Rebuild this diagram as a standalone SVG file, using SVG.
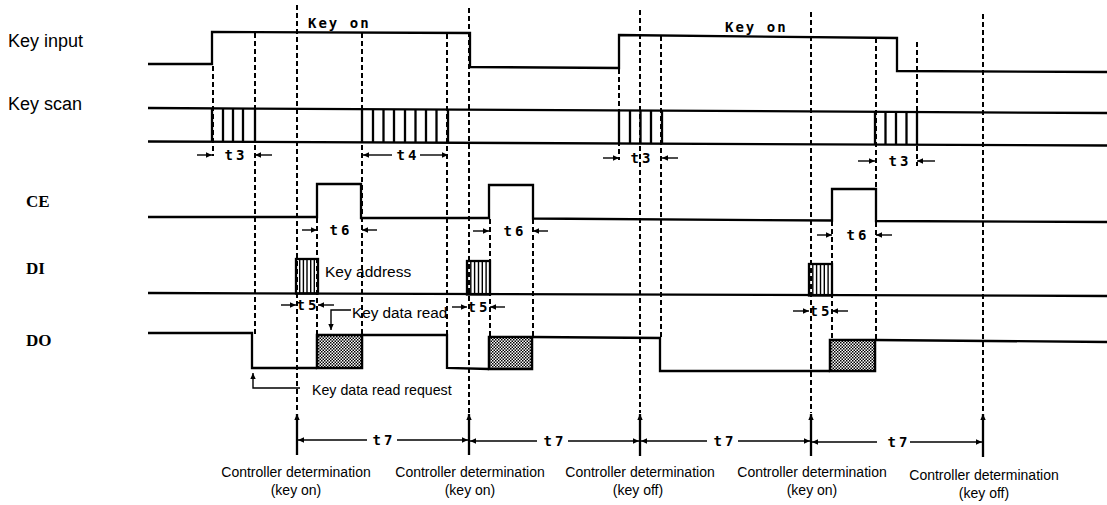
<svg xmlns="http://www.w3.org/2000/svg" width="1107" height="505" viewBox="0 0 1107 505">
<style>
.sig{fill:none;stroke:#000;stroke-width:2.3;stroke-linejoin:miter}
.dash{fill:none;stroke:#000;stroke-width:2;stroke-dasharray:5 3}
.thin{fill:none;stroke:#000;stroke-width:1.4}
.hatch{fill:none;stroke:#000;stroke-width:1.4}
.lbl{font-family:"Liberation Sans",Arial,sans-serif;fill:#000}
.signame{font-family:"Liberation Sans",Arial,sans-serif;font-size:18px;fill:#000}
.pin{font-family:"Liberation Serif","Times New Roman",serif;font-size:17px;font-weight:bold;fill:#000}
.mono{font-family:"DejaVu Sans Mono","Liberation Mono",monospace;font-weight:bold;fill:#000}
.tl{font-family:"DejaVu Sans Mono","Liberation Mono",monospace;font-weight:bold;font-size:14px;letter-spacing:3px;fill:#000;text-anchor:middle}
.cd{font-family:"Liberation Sans",Arial,sans-serif;font-size:14px;fill:#000;text-anchor:middle}
</style>
<defs>
<marker id="ah" viewBox="0 0 10 10" refX="10" refY="5" markerWidth="7" markerHeight="6" orient="auto" markerUnits="userSpaceOnUse"><path d="M0,0.5 L10,5 L0,9.5 z" fill="#000"/></marker>
<pattern id="stip" width="3" height="3" patternUnits="userSpaceOnUse"><rect width="3" height="3" fill="#fff"/><rect width="1.5" height="1.5" fill="#000"/><rect x="1.5" y="1.5" width="1.5" height="1.5" fill="#000"/></pattern>
</defs>
<rect width="1107" height="505" fill="#fff"/>

<g id="signal-names">
<text class="signame" x="8" y="47">Key input</text>
<text class="signame" x="8" y="110">Key scan</text>
<text class="pin" x="26" y="207">CE</text>
<text class="pin" x="26" y="274">DI</text>
<text class="pin" x="26" y="346">DO</text>
</g>

<g id="guides">
<path class="dash" d="M213,66 V156"/>
<path class="dash" d="M255,33 V334"/>
<path class="dash" d="M297,5 V413"/>
<path class="dash" d="M317,218 V335"/>
<path class="dash" d="M362,33 V335"/>
<path class="dash" d="M447,34 V335"/>
<path class="dash" d="M469,8 V413"/>
<path class="dash" d="M490,219 V337"/>
<path class="dash" d="M533,219 V337"/>
<path class="dash" d="M619,69 V160"/>
<path class="dash" d="M640,10 V413"/>
<path class="dash" d="M661,36 V338"/>
<path class="dash" d="M811,12 V413"/>
<path class="dash" d="M832,221 V340"/>
<path class="dash" d="M876,38 V340"/>
<path class="dash" d="M917,42 V166"/>
<path class="dash" d="M983,14 V413"/>
</g>

<g id="key-input">
<path class="sig" d="M148,64 H212 V32 L470,33 V67 L619,68 V35 L897,38 V71 L1107,72"/>
<text class="mono" x="308" y="28" font-size="14" letter-spacing="2">Key on</text>
<text class="mono" x="725" y="32" font-size="14" letter-spacing="2">Key on</text>
</g>

<g id="key-scan">
<path class="sig" d="M148,108 L1107,113"/>
<path class="sig" d="M148,141.5 L1107,145.5"/>
<path class="sig" d="M212,108.3 V141.8 M223,108.4 V141.8 M233,108.4 V141.8 M243,108.5 V141.9 M255,108.5 V141.9"/>
<path class="sig" d="M362,109.1 V142.4 M373,109.2 V142.5 M383.5,109.2 V142.5 M394,109.3 V142.5 M405,109.3 V142.6 M415.5,109.4 V142.6 M426,109.4 V142.7 M436.5,109.5 V142.7 M448,109.5 V142.8"/>
<path class="sig" d="M619,110.5 V143.5 M630,110.6 V143.6 M640.5,110.6 V143.6 M651,110.7 V143.7 M662,110.7 V143.7"/>
<path class="sig" d="M875,111.8 V144.5 M885.5,111.9 V144.5 M896,111.9 V144.6 M906.5,112 V144.6 M917,112 V144.7"/>
</g>

<g id="ce">
<path class="sig" d="M148,217 H317 V184 H361 V218 H489 V185 H533 V218.5 L832,220.5 V189 H876 V221 L1107,222"/>
</g>

<g id="di">
<path class="sig" d="M148,293 L1107,296"/>
<rect class="sig" x="296" y="259" width="22" height="34.5"/>
<path class="hatch" d="M299.7,259 V293.5 M303.4,259 V293.5 M307,259 V293.5 M310.7,259 V293.5 M314.3,259 V293.5"/>
<rect class="sig" x="467" y="261" width="23" height="33.5"/>
<path class="hatch" d="M470.8,261 V294.5 M474.6,261 V294.5 M478.5,261 V294.5 M482.3,261 V294.5 M486.1,261 V294.5"/>
<rect class="sig" x="809" y="264" width="23" height="31.5"/>
<path class="hatch" d="M812.8,264 V295.5 M816.6,264 V295.5 M820.5,264 V295.5 M824.3,264 V295.5 M828.1,264 V295.5"/>
<text class="lbl" x="325" y="277" font-size="15.5">Key address</text>
</g>

<g id="do">
<path class="sig" d="M148,333 H252 V368 H317 M362,335 L447,335 V368 L489,369 M532,337 L660,338 V371 L830,371 M875,340 L1107,342"/>
<rect x="317" y="335" width="45" height="33" fill="url(#stip)" stroke="#000" stroke-width="2.5"/>
<rect x="489" y="337" width="43" height="32" fill="url(#stip)" stroke="#000" stroke-width="2.5"/>
<rect x="830" y="340" width="45" height="31" fill="url(#stip)" stroke="#000" stroke-width="2.5"/>
<text class="lbl" x="352" y="318" font-size="15.3">Key data read</text>
<path class="thin" d="M351,310 H331 V330" marker-end="url(#ah)"/>
<text class="lbl" x="312" y="395" font-size="14.2">Key data read request</text>
<path class="thin" d="M300,388 H253 V373" marker-end="url(#ah)"/>
</g>

<g id="timing-labels">
<path class="thin" d="M197,155 H212" marker-end="url(#ah)"/>
<path class="thin" d="M272,155 H255" marker-end="url(#ah)"/>
<text class="tl" x="236" y="160">t3</text>
<path class="thin" d="M392,155 H363" marker-end="url(#ah)"/>
<path class="thin" d="M420,155 H448" marker-end="url(#ah)"/>
<text class="tl" x="408" y="160">t4</text>
<path class="thin" d="M603,158 H619" marker-end="url(#ah)"/>
<path class="thin" d="M678,158 H662" marker-end="url(#ah)"/>
<text class="tl" x="642" y="163">t3</text>
<path class="thin" d="M858,161 H875" marker-end="url(#ah)"/>
<path class="thin" d="M935,161 H917" marker-end="url(#ah)"/>
<text class="tl" x="900" y="166">t3</text>
<path class="thin" d="M302,230 H317" marker-end="url(#ah)"/>
<path class="thin" d="M377,230 H362" marker-end="url(#ah)"/>
<text class="tl" x="341" y="235">t6</text>
<path class="thin" d="M473,231 H489" marker-end="url(#ah)"/>
<path class="thin" d="M548,231 H533" marker-end="url(#ah)"/>
<text class="tl" x="515" y="236">t6</text>
<path class="thin" d="M817,235 H832" marker-end="url(#ah)"/>
<path class="thin" d="M892,235 H876" marker-end="url(#ah)"/>
<text class="tl" x="858" y="240">t6</text>
<path class="thin" d="M281,305 H296" marker-end="url(#ah)"/>
<path class="thin" d="M334,305 H318" marker-end="url(#ah)"/>
<text class="tl" x="308" y="310" letter-spacing="0">t5</text>
<path class="thin" d="M452,307 H467" marker-end="url(#ah)"/>
<path class="thin" d="M505,307 H490" marker-end="url(#ah)"/>
<text class="tl" x="479" y="312" letter-spacing="0">t5</text>
<path class="thin" d="M793,311 H809" marker-end="url(#ah)"/>
<path class="thin" d="M848,311 H832" marker-end="url(#ah)"/>
<text class="tl" x="821" y="316" letter-spacing="0">t5</text>
</g>

<g id="connectors">
<path class="sig" d="M297,455 V414" marker-end="url(#ah)"/>
<path class="sig" d="M469,455 V414" marker-end="url(#ah)"/>
<path class="sig" d="M640,456 V414" marker-end="url(#ah)"/>
<path class="sig" d="M811,456 V414" marker-end="url(#ah)"/>
<path class="sig" d="M983,457 V414" marker-end="url(#ah)"/>
<path class="thin" d="M367,440 H298" marker-end="url(#ah)"/>
<path class="thin" d="M397,440 H468" marker-end="url(#ah)"/>
<text class="tl" x="384" y="445">t7</text>
<path class="thin" d="M537,441 H470" marker-end="url(#ah)"/>
<path class="thin" d="M568,441 H639" marker-end="url(#ah)"/>
<text class="tl" x="555" y="446">t7</text>
<path class="thin" d="M707,441 H641" marker-end="url(#ah)"/>
<path class="thin" d="M738,441 H810" marker-end="url(#ah)"/>
<text class="tl" x="725" y="446">t7</text>
<path class="thin" d="M877,442 H812" marker-end="url(#ah)"/>
<path class="thin" d="M910,442 H982" marker-end="url(#ah)"/>
<text class="tl" x="899" y="447">t7</text>
</g>

<g id="determinations">
<text class="cd" x="296" y="477">Controller determination</text>
<text class="cd" x="296" y="495">(key on)</text>
<text class="cd" x="470" y="477">Controller determination</text>
<text class="cd" x="470" y="495">(key on)</text>
<text class="cd" x="640" y="477">Controller determination</text>
<text class="cd" x="638" y="495">(key off)</text>
<text class="cd" x="812" y="477">Controller determination</text>
<text class="cd" x="812" y="495">(key on)</text>
<text class="cd" x="984" y="480">Controller determination</text>
<text class="cd" x="984" y="498">(key off)</text>
</g>
</svg>
